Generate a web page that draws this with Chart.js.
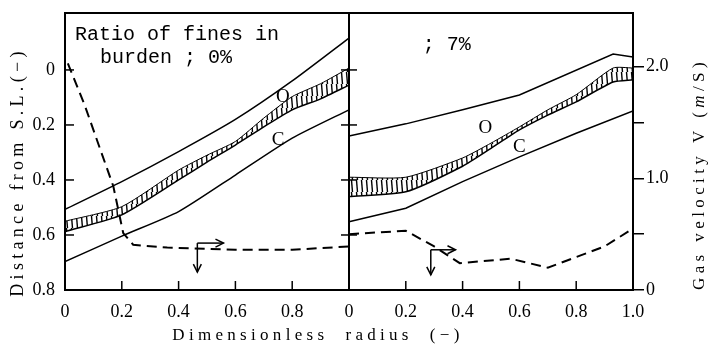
<!DOCTYPE html>
<html>
<head>
<meta charset="utf-8">
<script src="https://cdn.jsdelivr.net/npm/chart.js@4.4.1/dist/chart.umd.min.js"></script>
<style>
  html, body { margin: 0; padding: 0; background: #fff; }
  canvas { display: block; }
</style>
</head>
<body>
<canvas id="chart" width="709" height="347"></canvas>
<script>
// axis ticks (x runs 0..2: left panel 0..1, right panel 1..2)
const X_TICKS = [0, 0.2, 0.4, 0.6, 0.8, 1.0, 1.2, 1.4, 1.6, 1.8, 2.0]
const X_TICK_LABELS = ['0', '0.2', '0.4', '0.6', '0.8', '0', '0.2', '0.4', '0.6', '0.8', '1.0']
const DIST_TICKS = [0, 0.2, 0.4, 0.6, 0.8]
const DIST_TICK_LABELS = ['0', '0.2', '0.4', '0.6', '0.8']
const VEL_TICKS = [0, 0.5, 1.0, 1.5, 2.0]
const VEL_TICK_LABELS = ['0', '', '1.0', '', '2.0']

// left panel, fines 0%
const left_x = [0, 0.2, 0.4, 0.6, 0.8, 1.0]
const left_upper = [0.507, 0.406, 0.297, 0.18, 0.04, -0.116]
const left_lower = [0.697, 0.604, 0.515, 0.382, 0.248, 0.145]
const left_band_x = [0, 0.2, 0.4, 0.5, 0.6, 0.7, 0.8, 0.9, 1.0]
const left_band_top = [0.55, 0.497, 0.364, 0.31, 0.26, 0.175, 0.097, 0.05, -0.007]
const left_band_bot = [0.588, 0.527, 0.40, 0.335, 0.273, 0.207, 0.145, 0.105, 0.055]
const left_vel_x = [0.01, 0.07, 0.124, 0.17, 0.205, 0.24, 0.36, 0.6, 0.8, 1.0]
const left_vel = [2.03, 1.65, 1.26, 0.93, 0.51, 0.405, 0.38, 0.36, 0.36, 0.39]

// right panel, fines 7%
const right_upper_x = [0, 0.2, 0.4, 0.6, 0.93, 1.0]
const right_upper = [0.24, 0.196, 0.145, 0.091, -0.058, -0.047]
const right_lower_x = [0, 0.2, 0.4, 0.6, 0.8, 1.0]
const right_lower = [0.552, 0.503, 0.406, 0.316, 0.23, 0.149]
const right_band_x = [0, 0.2, 0.4, 0.5, 0.6, 0.7, 0.8, 0.93, 1.0]
const right_band_top = [0.39, 0.39, 0.32, 0.266, 0.207, 0.145, 0.09, -0.007, -0.007]
const right_band_bot = [0.46, 0.443, 0.35, 0.285, 0.218, 0.164, 0.116, 0.044, 0.036]
const right_vel_x = [0, 0.2, 0.3, 0.39, 0.57, 0.7, 0.9, 1.0]
const right_vel = [0.5, 0.53, 0.39, 0.24, 0.28, 0.2, 0.39, 0.55]

// O / C labels (x, distance) and axis-pointer arrows (x, velocity)
const zone_labels = [
  { text: 'O', x: 0.767, d: 0.10 }, { text: 'C', x: 0.75, d: 0.255 },
  { text: 'O', x: 1.48, d: 0.21 }, { text: 'C', x: 1.60, d: 0.28 },
]
const pointer_arrows = [
  { x: 0.466, v: 0.42, xEnd: 0.558, vEnd: 0.16 },
  { x: 1.288, v: 0.36, xEnd: 1.375, vEnd: 0.135 },
]

const SERIF = 'Liberation Serif, Times New Roman, serif'
const MONO = 'Liberation Mono, Courier New, monospace'

const ctx0 = document.getElementById('chart').getContext('2d')

function hatchPattern() {
  const c = document.createElement('canvas')
  c.width = 5; c.height = 12
  const g = c.getContext('2d')
  g.strokeStyle = '#000'
  g.lineWidth = 1.4
  g.beginPath(); g.moveTo(1.5, 0); g.lineTo(2.5, 12); g.stroke()
  return ctx0.createPattern(c, 'repeat')
}
const HATCH = hatchPattern()

function pts(xs, ys, off) {
  return xs.map((x, i) => ({ x: x + off, y: ys[i] }))
}

function solid(data, tension) {
  return { data, yAxisID: 'd', borderColor: '#000', borderWidth: 1.5, pointRadius: 0, fill: false, tension: tension || 0 }
}
function bandTop(data) {
  return { data, yAxisID: 'd', borderColor: '#000', borderWidth: 1, pointRadius: 0, fill: '+1', backgroundColor: HATCH, tension: 0.2 }
}
function bandBot(data) {
  return { data, yAxisID: 'd', borderColor: '#000', borderWidth: 1.5, pointRadius: 0, fill: false, tension: 0.2 }
}
function dashed(data) {
  return { data, yAxisID: 'v', borderColor: '#000', borderWidth: 2, borderDash: [10, 6], pointRadius: 0, fill: false, tension: 0 }
}

function line(ctx, x1, y1, x2, y2) {
  ctx.beginPath(); ctx.moveTo(x1, y1); ctx.lineTo(x2, y2); ctx.stroke()
}
function head(ctx, x, y, dir) {
  ctx.beginPath()
  if (dir === 'right') { ctx.moveTo(x - 8, y - 4); ctx.lineTo(x, y); ctx.lineTo(x - 8, y + 4) }
  else { ctx.moveTo(x - 4, y - 8); ctx.lineTo(x, y); ctx.lineTo(x + 4, y - 8) }
  ctx.stroke()
}

const decor = {
  id: 'decor',
  afterDraw(chart) {
    const { ctx, chartArea: a, scales: { x, d, v } } = chart
    ctx.save()
    ctx.strokeStyle = '#000'
    ctx.fillStyle = '#000'

    // frame and panel divider
    ctx.lineWidth = 2
    ctx.strokeRect(a.left, a.top, a.right - a.left, a.bottom - a.top)
    const xm = x.getPixelForValue(1)
    line(ctx, xm, a.top, xm, a.bottom)

    // inward tick marks
    ctx.lineWidth = 1.5
    X_TICKS.forEach(t => { const px = x.getPixelForValue(t); line(ctx, px, a.bottom, px, a.bottom - 9) })
    DIST_TICKS.slice(0, -1).forEach(t => {
      const py = d.getPixelForValue(t)
      line(ctx, a.left, py, a.left + 9, py)
      line(ctx, xm - 8, py, xm + 8, py)
    })

    // arrows pointing at the velocity axis
    pointer_arrows.forEach(p => {
      const px = x.getPixelForValue(p.x), py = v.getPixelForValue(p.v)
      const ex = x.getPixelForValue(p.xEnd), ey = v.getPixelForValue(p.vEnd)
      line(ctx, px, py, ex, py); head(ctx, ex, py, 'right')
      line(ctx, px, py, px, ey); head(ctx, px, ey, 'down')
    })

    // O / C labels
    ctx.font = '19px ' + SERIF
    ctx.textAlign = 'center'
    ctx.textBaseline = 'middle'
    zone_labels.forEach(l => ctx.fillText(l.text, x.getPixelForValue(l.x), d.getPixelForValue(l.d)))

    // panel captions
    ctx.font = '20px ' + MONO
    ctx.textAlign = 'left'
    ctx.textBaseline = 'alphabetic'
    ctx.fillText('Ratio of fines in', a.left + 10, a.top + 27)
    ctx.fillText('burden ; 0%', a.left + 35, a.top + 50)
    ctx.fillText('; 7%', x.getPixelForValue(1.26), a.top + 37)

    // axis titles
    ctx.font = '17px ' + SERIF
    ctx.letterSpacing = '4.3px'
    ctx.textAlign = 'center'
    ctx.fillText('Dimensionless  radius  (\u2212)', 318, 340)

    ctx.save()
    ctx.font = '18px ' + SERIF
    ctx.translate(23, 172)
    ctx.rotate(-Math.PI / 2)
    ctx.fillText('Distance from S.L.(\u2212)', 0, 0)
    ctx.restore()

    ctx.save()
    ctx.letterSpacing = '4.4px'
    ctx.translate(704, 174)
    ctx.rotate(-Math.PI / 2)
    ctx.textAlign = 'left'
    const parts = [['Gas velocity V (', ''], ['m', 'italic '], ['/S)', '']]
    let total = 0
    parts.forEach(p => { ctx.font = p[1] + '17px ' + SERIF; total += ctx.measureText(p[0]).width })
    let cx = -total / 2
    parts.forEach(p => {
      ctx.font = p[1] + '17px ' + SERIF
      ctx.fillText(p[0], cx, 0)
      cx += ctx.measureText(p[0]).width
    })
    ctx.restore()

    ctx.restore()
  }
}

const tickFont = { family: SERIF, size: 18 }

new Chart(ctx0, {
  type: 'line',
  data: {
    datasets: [
      solid(pts(left_x, left_upper, 0), 0.2),
      bandTop(pts(left_band_x, left_band_top, 0)),
      bandBot(pts(left_band_x, left_band_bot, 0)),
      solid(pts(left_x, left_lower, 0), 0.2),
      dashed(pts(left_vel_x, left_vel, 0)),
      solid(pts(right_upper_x, right_upper, 1)),
      bandTop(pts(right_band_x, right_band_top, 1)),
      bandBot(pts(right_band_x, right_band_bot, 1)),
      solid(pts(right_lower_x, right_lower, 1)),
      dashed(pts(right_vel_x, right_vel, 1)),
    ],
  },
  options: {
    responsive: false,
    animation: false,
    layout: { padding: { top: 13, left: 0, right: 0, bottom: 0 } },
    plugins: { legend: { display: false }, tooltip: { enabled: false } },
    scales: {
      x: {
        type: 'linear', min: 0, max: 2,
        afterBuildTicks: s => { s.ticks = X_TICKS.map(value => ({ value })) },
        afterFit: s => { s.height = 57 },
        grid: { display: false },
        border: { display: false },
        ticks: { callback: (val, i) => X_TICK_LABELS[i], color: '#000', font: tickFont, padding: 3, maxRotation: 0, autoSkip: false },
      },
      d: {
        type: 'linear', position: 'left', reverse: true, min: -0.207, max: 0.8,
        afterBuildTicks: s => { s.ticks = DIST_TICKS.map(value => ({ value })) },
        afterFit: s => { s.width = 65 },
        grid: { drawOnChartArea: false, drawTicks: true, tickLength: 10, color: 'rgba(0,0,0,0)' },
        border: { display: false },
        ticks: { callback: (val, i) => DIST_TICK_LABELS[i], color: '#000', font: tickFont, padding: 0 },
      },
      v: {
        type: 'linear', position: 'right', min: 0, max: 2.48,
        afterBuildTicks: s => { s.ticks = VEL_TICKS.map(value => ({ value })) },
        afterFit: s => { s.width = 76 },
        grid: { drawOnChartArea: false, drawTicks: true, tickLength: 11, color: '#000', lineWidth: 1.5 },
        border: { display: false },
        ticks: { callback: (val, i) => VEL_TICK_LABELS[i], color: '#000', font: tickFont, padding: 2 },
      },
    },
  },
  plugins: [decor],
})
</script>
</body>
</html>
